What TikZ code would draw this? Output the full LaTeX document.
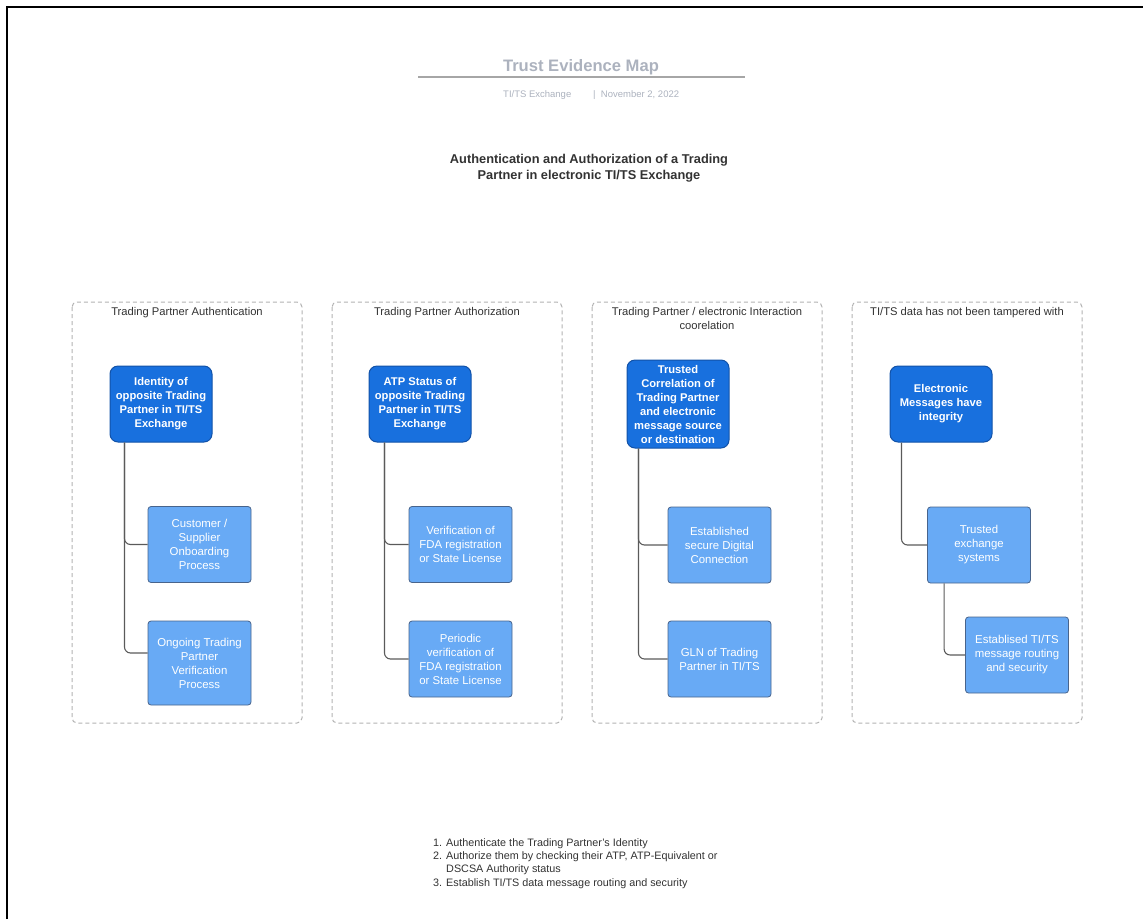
\documentclass[tikz,border=0pt]{standalone}
\usepackage{fontspec}
\setmainfont{Liberation Sans}
\definecolor{darkbox}{RGB}{24,112,222}
\definecolor{darkedge}{RGB}{18,82,168}
\definecolor{lightbox}{RGB}{104,170,245}
\definecolor{lightedge}{RGB}{72,100,140}
\definecolor{titlegray}{RGB}{172,178,190}
\definecolor{textdark}{RGB}{50,50,50}
\definecolor{wiregray}{RGB}{90,90,90}
\begin{document}
\begin{tikzpicture}[x=1pt,y=-1pt,
  darknode/.style={draw=darkedge, line width=1pt, fill=darkbox, rounded corners=8pt,
    text=white, font=\bfseries\fontsize{11.2}{14}\selectfont, align=center,
    minimum width=102pt, minimum height=76pt, inner sep=1pt},
  lightnode/.style={draw=lightedge, line width=0.8pt, fill=lightbox, rounded corners=3pt,
    text=white, font=\fontsize{11.4}{14}\selectfont, align=center,
    minimum width=103pt, minimum height=76pt, inner sep=1pt},
  grouplabel/.style={text=textdark, font=\fontsize{11.2}{13.5}\selectfont, align=center, inner sep=0pt},
  groupbox/.style={draw=gray!60, line width=1pt, dash pattern=on 4pt off 3pt, rounded corners=5pt},
  wire/.style={draw=wiregray, line width=1.1pt, rounded corners=6pt}
]
\useasboundingbox (0,0) rectangle (1143,919);
% outer frame (top and left only visible)
\draw[line width=2.6pt, black] (7,919) -- (7,7) -- (1143,7);

% title block
\node[text=titlegray, font=\bfseries\fontsize{16.6}{20}\selectfont, anchor=base, inner sep=0pt] (title) at (581,71) {Trust Evidence Map};
\coordinate (tl) at (418,77);
\coordinate (tr) at (745,77);
\draw[gray!70, line width=1.2pt] (tl) -- (tr);
\node[text=titlegray, font=\fontsize{9.5}{11}\selectfont, anchor=base west, inner sep=0pt] (sub1) at (503,97) {TI/TS Exchange};
\node[text=titlegray, font=\fontsize{9.5}{11}\selectfont, anchor=base west, inner sep=0pt] (sub2) at (593,97) {|\ \ November 2, 2022};

\node[text=textdark, font=\bfseries\fontsize{12.8}{16}\selectfont, align=center, inner sep=0pt, anchor=base] (head) at (589,179)
  {Authentication and Authorization of a Trading\\Partner in electronic TI/TS Exchange};

% group containers
\draw[groupbox] (72,302) rectangle (302,723);
\draw[groupbox] (332,302) rectangle (562,723);
\draw[groupbox] (592,302) rectangle (822,723);
\draw[groupbox] (852,302) rectangle (1082,723);

\node[grouplabel, anchor=base] (g1) at (187,315) {Trading Partner Authentication};
\node[grouplabel, anchor=base] (g2) at (447,315) {Trading Partner Authorization};
\node[grouplabel, anchor=base] (g3) at (707,329) {Trading Partner / electronic Interaction\\coorelation};
\node[grouplabel, anchor=base] (g4) at (967,315) {TI/TS data has not been tampered with};

% column 1
\node[darknode] (d1) at (161,404) {Identity of\\opposite Trading\\Partner in TI/TS\\Exchange};
\node[lightnode] (l1a) at (199.5,544.5) {Customer /\\Supplier\\Onboarding\\Process};
\node[lightnode, minimum height=84pt] (l1b) at (199.5,663) {Ongoing Trading\\Partner\\Verification\\Process};
\draw[wire] (d1.south west) ++(15,0) |- (l1a.west);
\draw[wire] (d1.south west) ++(15,0) |- ([yshift=10pt]l1b.west);

% column 2
\node[darknode] (d2) at (420,404) {ATP Status of\\opposite Trading\\Partner in TI/TS\\Exchange};
\node[lightnode] (l2a) at (460.5,544.5) {Verification of\\FDA registration\\or State License};
\node[lightnode] (l2b) at (460.5,659) {Periodic\\verification of\\FDA registration\\or State License};
\draw[wire] (d2.south west) ++(16,0) |- (l2a.west);
\draw[wire] (d2.south west) ++(16,0) |- (l2b.west);

% column 3
\node[darknode, minimum height=88pt] (d3) at (678,404) {Trusted\\Correlation of\\Trading Partner\\and electronic\\message source\\or destination};
\node[lightnode] (l3a) at (719.5,545) {Established\\secure Digital\\Connection};
\node[lightnode] (l3b) at (719.5,659) {GLN of Trading\\Partner in TI/TS};
\draw[wire] (d3.south west) ++(12,0) |- (l3a.west);
\draw[wire] (d3.south west) ++(12,0) |- (l3b.west);

% column 4
\node[darknode] (d4) at (941,404) {Electronic\\Messages have\\integrity};
\node[lightnode] (l4a) at (979,545) {Trusted\\exchange\\systems};
\node[lightnode] (l4b) at (1017,655) {Establised TI/TS\\message routing\\and security};
\draw[wire] (d4.south west) ++(12,0) |- (l4a.west);
\draw[wire] (l4a.south west) ++(17,0) |- (l4b.west);

% bottom notes
\node[text=textdark, font=\fontsize{10.8}{13.4}\selectfont, align=left, anchor=north west, inner sep=0pt] (notes) at (433,838)
  {1. Authenticate the Trading Partner's Identity\\
   2. Authorize them by checking their ATP, ATP-Equivalent or\\
   \hphantom{2. }DSCSA Authority status\\
   3. Establish TI/TS data message routing and security};
\end{tikzpicture}
\end{document}
